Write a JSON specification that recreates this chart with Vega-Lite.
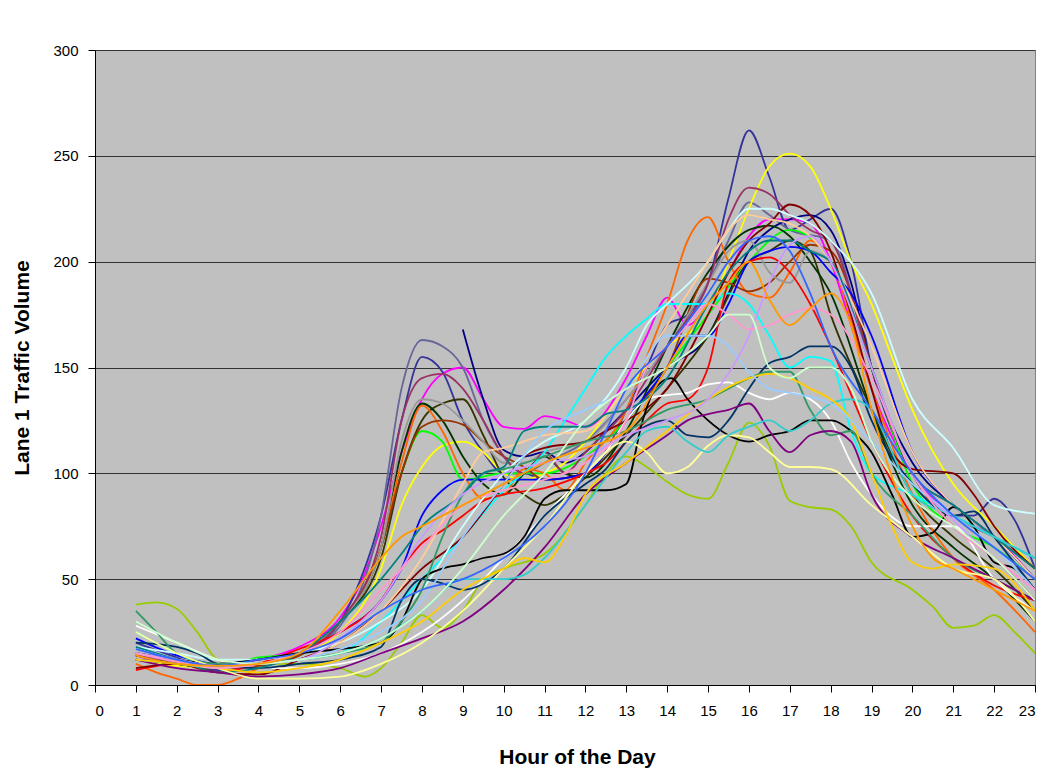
{
"$schema": "https://vega.github.io/schema/vega-lite/v6.json",
"width": 940, "height": 635,
"autosize": {"type": "none"},
"padding": {"left": 95, "top": 50, "right": 10, "bottom": 84},
"background": "white",
"config": {"font": "Liberation Sans", "view": {"fill": "#C0C0C0", "stroke": "#808080", "strokeWidth": 1}},
"data": {"values": [
{"s":"A","h":1,"v":38},{"s":"A","h":1.5,"v":39},{"s":"A","h":2,"v":36},{"s":"A","h":2.5,"v":25},{"s":"A","h":3,"v":12},{"s":"A","h":3.5,"v":10},{"s":"A","h":4,"v":10},{"s":"A","h":5,"v":10},{"s":"A","h":6,"v":8},{"s":"A","h":6.6,"v":4},{"s":"A","h":7,"v":8},{"s":"A","h":7.5,"v":20},{"s":"A","h":8,"v":33},{"s":"A","h":8.5,"v":27},{"s":"A","h":9,"v":35},{"s":"A","h":9.5,"v":50},{"s":"A","h":10,"v":55},{"s":"A","h":11,"v":62},{"s":"A","h":12,"v":85},{"s":"A","h":12.5,"v":100},{"s":"A","h":13,"v":108},{"s":"A","h":13.5,"v":103},{"s":"A","h":14,"v":96},{"s":"A","h":14.5,"v":90},{"s":"A","h":15,"v":88},{"s":"A","h":15.5,"v":105},{"s":"A","h":16,"v":124},{"s":"A","h":16.5,"v":113},{"s":"A","h":17,"v":87},{"s":"A","h":17.5,"v":84},{"s":"A","h":18,"v":83},{"s":"A","h":18.5,"v":75},{"s":"A","h":19,"v":58},{"s":"A","h":20,"v":45},{"s":"A","h":20.5,"v":37},{"s":"A","h":21,"v":27},{"s":"A","h":21.5,"v":28},{"s":"A","h":22,"v":33},{"s":"A","h":22.5,"v":25},{"s":"A","h":23,"v":15},
{"s":"B","h":1,"v":14},{"s":"B","h":2,"v":10},{"s":"B","h":3,"v":10},{"s":"B","h":4,"v":12},{"s":"B","h":5,"v":18},{"s":"B","h":6,"v":32},{"s":"B","h":6.5,"v":48},{"s":"B","h":7,"v":75},{"s":"B","h":7.5,"v":110},{"s":"B","h":8,"v":135},{"s":"B","h":8.5,"v":147},{"s":"B","h":9,"v":150},{"s":"B","h":9.5,"v":135},{"s":"B","h":10,"v":122},{"s":"B","h":10.5,"v":121},{"s":"B","h":11,"v":127},{"s":"B","h":11.5,"v":125},{"s":"B","h":12,"v":122},{"s":"B","h":13,"v":145},{"s":"B","h":13.5,"v":165},{"s":"B","h":14,"v":183},{"s":"B","h":14.5,"v":170},{"s":"B","h":15,"v":180},{"s":"B","h":15.5,"v":195},{"s":"B","h":16,"v":212},{"s":"B","h":16.5,"v":220},{"s":"B","h":17,"v":220},{"s":"B","h":17.5,"v":218},{"s":"B","h":18,"v":200},{"s":"B","h":18.5,"v":170},{"s":"B","h":19,"v":140},{"s":"B","h":20,"v":100},{"s":"B","h":21,"v":80},{"s":"B","h":22,"v":70},{"s":"B","h":23,"v":50},
{"s":"C","h":1,"v":20},{"s":"C","h":2,"v":13},{"s":"C","h":3,"v":7},{"s":"C","h":4,"v":10},{"s":"C","h":5,"v":15},{"s":"C","h":6,"v":30},{"s":"C","h":6.5,"v":50},{"s":"C","h":7,"v":80},{"s":"C","h":7.5,"v":125},{"s":"C","h":8,"v":155},{"s":"C","h":8.5,"v":148},{"s":"C","h":9,"v":125},{"s":"C","h":9.5,"v":110},{"s":"C","h":10,"v":100},{"s":"C","h":10.5,"v":100},{"s":"C","h":11,"v":97},{"s":"C","h":12,"v":100},{"s":"C","h":12.5,"v":110},{"s":"C","h":13,"v":130},{"s":"C","h":13.5,"v":150},{"s":"C","h":14,"v":170},{"s":"C","h":14.5,"v":175},{"s":"C","h":15,"v":190},{"s":"C","h":15.5,"v":230},{"s":"C","h":16,"v":262},{"s":"C","h":16.5,"v":240},{"s":"C","h":17,"v":215},{"s":"C","h":17.5,"v":220},{"s":"C","h":18,"v":225},{"s":"C","h":18.5,"v":200},{"s":"C","h":19,"v":150},{"s":"C","h":19.5,"v":120},{"s":"C","h":20,"v":100},{"s":"C","h":21,"v":80},{"s":"C","h":21.5,"v":80},{"s":"C","h":22,"v":88},{"s":"C","h":22.5,"v":78},{"s":"C","h":23,"v":55},
{"s":"D","h":1,"v":15},{"s":"D","h":2,"v":12},{"s":"D","h":3,"v":9},{"s":"D","h":4,"v":10},{"s":"D","h":5,"v":15},{"s":"D","h":6,"v":28},{"s":"D","h":7,"v":80},{"s":"D","h":7.5,"v":140},{"s":"D","h":8,"v":163},{"s":"D","h":8.5,"v":160},{"s":"D","h":9,"v":150},{"s":"D","h":9.5,"v":125},{"s":"D","h":10,"v":108},{"s":"D","h":10.5,"v":100},{"s":"D","h":11,"v":105},{"s":"D","h":12,"v":115},{"s":"D","h":13,"v":135},{"s":"D","h":14,"v":160},{"s":"D","h":15,"v":190},{"s":"D","h":15.5,"v":210},{"s":"D","h":16,"v":228},{"s":"D","h":16.5,"v":222},{"s":"D","h":17,"v":215},{"s":"D","h":18,"v":210},{"s":"D","h":19,"v":150},{"s":"D","h":20,"v":100},{"s":"D","h":21,"v":80},{"s":"D","h":22,"v":70},{"s":"D","h":23,"v":60},
{"s":"E","h":9,"v":168},{"s":"E","h":9.5,"v":135},{"s":"E","h":10,"v":111},{"s":"E","h":10.5,"v":108},{"s":"E","h":11,"v":110},{"s":"E","h":11.5,"v":105},{"s":"E","h":12,"v":110},{"s":"E","h":12.5,"v":120},{"s":"E","h":13,"v":130},{"s":"E","h":14,"v":150},{"s":"E","h":15,"v":165},{"s":"E","h":15.5,"v":185},{"s":"E","h":16,"v":205},{"s":"E","h":16.5,"v":215},{"s":"E","h":17,"v":220},{"s":"E","h":17.5,"v":222},{"s":"E","h":18,"v":215},{"s":"E","h":18.5,"v":190},{"s":"E","h":19,"v":150},{"s":"E","h":20,"v":105},{"s":"E","h":21,"v":85},{"s":"E","h":22,"v":70},{"s":"E","h":23,"v":50},
{"s":"F","h":1,"v":12},{"s":"F","h":2,"v":9},{"s":"F","h":3,"v":8},{"s":"F","h":4,"v":10},{"s":"F","h":5,"v":15},{"s":"F","h":6,"v":25},{"s":"F","h":7,"v":55},{"s":"F","h":7.5,"v":85},{"s":"F","h":8,"v":103},{"s":"F","h":8.5,"v":113},{"s":"F","h":9,"v":115},{"s":"F","h":9.5,"v":110},{"s":"F","h":10,"v":100},{"s":"F","h":10.5,"v":97},{"s":"F","h":11,"v":100},{"s":"F","h":11.5,"v":105},{"s":"F","h":12,"v":115},{"s":"F","h":13,"v":140},{"s":"F","h":14,"v":160},{"s":"F","h":15,"v":175},{"s":"F","h":15.5,"v":200},{"s":"F","h":16,"v":225},{"s":"F","h":16.5,"v":245},{"s":"F","h":17,"v":251},{"s":"F","h":17.5,"v":245},{"s":"F","h":18,"v":225},{"s":"F","h":18.5,"v":200},{"s":"F","h":19,"v":180},{"s":"F","h":19.5,"v":155},{"s":"F","h":20,"v":130},{"s":"F","h":21,"v":95},{"s":"F","h":22,"v":75},{"s":"F","h":23,"v":55},
{"s":"G","h":1,"v":15},{"s":"G","h":2,"v":12},{"s":"G","h":3,"v":9},{"s":"G","h":4,"v":13},{"s":"G","h":5,"v":15},{"s":"G","h":6,"v":30},{"s":"G","h":7,"v":65},{"s":"G","h":7.5,"v":100},{"s":"G","h":8,"v":120},{"s":"G","h":8.5,"v":115},{"s":"G","h":9,"v":97},{"s":"G","h":10,"v":100},{"s":"G","h":11,"v":100},{"s":"G","h":12,"v":108},{"s":"G","h":13,"v":125},{"s":"G","h":14,"v":150},{"s":"G","h":15,"v":175},{"s":"G","h":16,"v":200},{"s":"G","h":17,"v":215},{"s":"G","h":18,"v":200},{"s":"G","h":19,"v":150},{"s":"G","h":20,"v":95},{"s":"G","h":21,"v":75},{"s":"G","h":22,"v":65},{"s":"G","h":23,"v":50},
{"s":"H","h":1,"v":12},{"s":"H","h":2,"v":10},{"s":"H","h":3,"v":8},{"s":"H","h":4,"v":10},{"s":"H","h":5,"v":14},{"s":"H","h":6,"v":30},{"s":"H","h":7,"v":60},{"s":"H","h":7.5,"v":100},{"s":"H","h":8,"v":125},{"s":"H","h":8.5,"v":133},{"s":"H","h":9,"v":135},{"s":"H","h":9.5,"v":118},{"s":"H","h":10,"v":98},{"s":"H","h":10.5,"v":90},{"s":"H","h":11,"v":85},{"s":"H","h":11.5,"v":90},{"s":"H","h":12,"v":98},{"s":"H","h":13,"v":118},{"s":"H","h":14,"v":140},{"s":"H","h":15,"v":165},{"s":"H","h":16,"v":200},{"s":"H","h":16.5,"v":205},{"s":"H","h":17,"v":210},{"s":"H","h":17.5,"v":205},{"s":"H","h":18,"v":175},{"s":"H","h":19,"v":130},{"s":"H","h":20,"v":90},{"s":"H","h":21,"v":70},{"s":"H","h":22,"v":55},{"s":"H","h":23,"v":35},
{"s":"I","h":1,"v":14},{"s":"I","h":2,"v":10},{"s":"I","h":3,"v":8},{"s":"I","h":4,"v":10},{"s":"I","h":5,"v":15},{"s":"I","h":6,"v":30},{"s":"I","h":7,"v":65},{"s":"I","h":7.5,"v":110},{"s":"I","h":8,"v":133},{"s":"I","h":8.5,"v":125},{"s":"I","h":9,"v":108},{"s":"I","h":9.5,"v":95},{"s":"I","h":10,"v":90},{"s":"I","h":10.5,"v":100},{"s":"I","h":11,"v":108},{"s":"I","h":11.5,"v":100},{"s":"I","h":12,"v":98},{"s":"I","h":13,"v":120},{"s":"I","h":14,"v":160},{"s":"I","h":15,"v":195},{"s":"I","h":16,"v":215},{"s":"I","h":16.5,"v":217},{"s":"I","h":17,"v":212},{"s":"I","h":17.5,"v":200},{"s":"I","h":18,"v":185},{"s":"I","h":19,"v":130},{"s":"I","h":20,"v":85},{"s":"I","h":21,"v":65},{"s":"I","h":22,"v":50},{"s":"I","h":23,"v":30},
{"s":"J","h":1,"v":10},{"s":"J","h":1.5,"v":6},{"s":"J","h":2,"v":3},{"s":"J","h":2.5,"v":0},{"s":"J","h":3,"v":0},{"s":"J","h":3.5,"v":3},{"s":"J","h":4,"v":8},{"s":"J","h":5,"v":15},{"s":"J","h":6,"v":30},{"s":"J","h":7,"v":65},{"s":"J","h":7.5,"v":105},{"s":"J","h":8,"v":132},{"s":"J","h":8.5,"v":120},{"s":"J","h":9,"v":100},{"s":"J","h":9.5,"v":88},{"s":"J","h":10,"v":90},{"s":"J","h":10.5,"v":102},{"s":"J","h":11,"v":100},{"s":"J","h":11.5,"v":92},{"s":"J","h":12,"v":105},{"s":"J","h":13,"v":130},{"s":"J","h":13.5,"v":155},{"s":"J","h":14,"v":180},{"s":"J","h":14.5,"v":210},{"s":"J","h":15,"v":221},{"s":"J","h":15.5,"v":200},{"s":"J","h":16,"v":185},{"s":"J","h":16.5,"v":183},{"s":"J","h":17,"v":195},{"s":"J","h":17.5,"v":210},{"s":"J","h":18,"v":200},{"s":"J","h":19,"v":140},{"s":"J","h":20,"v":90},{"s":"J","h":21,"v":60},{"s":"J","h":22,"v":45},{"s":"J","h":23,"v":25},
{"s":"K","h":1,"v":12},{"s":"K","h":2,"v":10},{"s":"K","h":3,"v":8},{"s":"K","h":4,"v":9},{"s":"K","h":5,"v":14},{"s":"K","h":6,"v":30},{"s":"K","h":7,"v":65},{"s":"K","h":7.5,"v":100},{"s":"K","h":8,"v":122},{"s":"K","h":8.5,"v":125},{"s":"K","h":9,"v":123},{"s":"K","h":9.5,"v":115},{"s":"K","h":10,"v":108},{"s":"K","h":10.5,"v":103},{"s":"K","h":11,"v":97},{"s":"K","h":12,"v":100},{"s":"K","h":13,"v":125},{"s":"K","h":14,"v":150},{"s":"K","h":15,"v":192},{"s":"K","h":15.5,"v":190},{"s":"K","h":16,"v":186},{"s":"K","h":16.5,"v":190},{"s":"K","h":17,"v":200},{"s":"K","h":17.5,"v":208},{"s":"K","h":18,"v":205},{"s":"K","h":18.5,"v":185},{"s":"K","h":19,"v":150},{"s":"K","h":20,"v":100},{"s":"K","h":21,"v":75},{"s":"K","h":22,"v":60},{"s":"K","h":23,"v":40},
{"s":"L","h":1,"v":15},{"s":"L","h":2,"v":12},{"s":"L","h":3,"v":9},{"s":"L","h":4,"v":10},{"s":"L","h":5,"v":15},{"s":"L","h":6,"v":30},{"s":"L","h":7,"v":65},{"s":"L","h":7.5,"v":115},{"s":"L","h":8,"v":135},{"s":"L","h":8.5,"v":133},{"s":"L","h":9,"v":125},{"s":"L","h":9.5,"v":115},{"s":"L","h":10,"v":105},{"s":"L","h":10.5,"v":105},{"s":"L","h":11,"v":110},{"s":"L","h":12,"v":115},{"s":"L","h":13,"v":135},{"s":"L","h":14,"v":160},{"s":"L","h":15,"v":190},{"s":"L","h":15.5,"v":205},{"s":"L","h":16,"v":210},{"s":"L","h":16.5,"v":195},{"s":"L","h":17,"v":190},{"s":"L","h":17.5,"v":205},{"s":"L","h":18,"v":200},{"s":"L","h":19,"v":150},{"s":"L","h":20,"v":100},{"s":"L","h":21,"v":80},{"s":"L","h":22,"v":70},{"s":"L","h":23,"v":55},
{"s":"M","h":1,"v":14},{"s":"M","h":2,"v":11},{"s":"M","h":3,"v":8},{"s":"M","h":4,"v":10},{"s":"M","h":5,"v":15},{"s":"M","h":6,"v":30},{"s":"M","h":7,"v":70},{"s":"M","h":7.5,"v":125},{"s":"M","h":8,"v":145},{"s":"M","h":8.5,"v":147},{"s":"M","h":9,"v":140},{"s":"M","h":9.5,"v":125},{"s":"M","h":10,"v":108},{"s":"M","h":10.5,"v":100},{"s":"M","h":11,"v":110},{"s":"M","h":11.5,"v":100},{"s":"M","h":12,"v":110},{"s":"M","h":13,"v":130},{"s":"M","h":14,"v":160},{"s":"M","h":15,"v":190},{"s":"M","h":15.5,"v":220},{"s":"M","h":16,"v":235},{"s":"M","h":16.5,"v":232},{"s":"M","h":17,"v":222},{"s":"M","h":17.5,"v":215},{"s":"M","h":18,"v":210},{"s":"M","h":19,"v":150},{"s":"M","h":20,"v":100},{"s":"M","h":21,"v":85},{"s":"M","h":22,"v":70},{"s":"M","h":23,"v":55},
{"s":"N","h":1,"v":22},{"s":"N","h":2,"v":14},{"s":"N","h":3,"v":10},{"s":"N","h":4,"v":12},{"s":"N","h":5,"v":15},{"s":"N","h":6,"v":25},{"s":"N","h":7,"v":40},{"s":"N","h":7.5,"v":55},{"s":"N","h":8,"v":80},{"s":"N","h":8.5,"v":92},{"s":"N","h":9,"v":97},{"s":"N","h":10,"v":97},{"s":"N","h":11,"v":97},{"s":"N","h":12,"v":100},{"s":"N","h":12.5,"v":110},{"s":"N","h":13,"v":125},{"s":"N","h":14,"v":150},{"s":"N","h":14.5,"v":165},{"s":"N","h":15,"v":165},{"s":"N","h":15.5,"v":180},{"s":"N","h":16,"v":200},{"s":"N","h":16.5,"v":205},{"s":"N","h":17,"v":207},{"s":"N","h":17.5,"v":205},{"s":"N","h":18,"v":195},{"s":"N","h":18.5,"v":185},{"s":"N","h":19,"v":165},{"s":"N","h":20,"v":110},{"s":"N","h":21,"v":85},{"s":"N","h":22,"v":70},{"s":"N","h":23,"v":50},
{"s":"O","h":1,"v":25},{"s":"O","h":2,"v":15},{"s":"O","h":3,"v":8},{"s":"O","h":4,"v":10},{"s":"O","h":5,"v":12},{"s":"O","h":6,"v":15},{"s":"O","h":7,"v":30},{"s":"O","h":8,"v":50},{"s":"O","h":9,"v":70},{"s":"O","h":10,"v":92},{"s":"O","h":11,"v":110},{"s":"O","h":11.5,"v":125},{"s":"O","h":12,"v":140},{"s":"O","h":12.5,"v":155},{"s":"O","h":13,"v":165},{"s":"O","h":13.5,"v":173},{"s":"O","h":14,"v":180},{"s":"O","h":14.5,"v":180},{"s":"O","h":15,"v":180},{"s":"O","h":15.5,"v":185},{"s":"O","h":16,"v":180},{"s":"O","h":16.5,"v":165},{"s":"O","h":17,"v":150},{"s":"O","h":17.5,"v":155},{"s":"O","h":18,"v":153},{"s":"O","h":18.5,"v":120},{"s":"O","h":19,"v":100},{"s":"O","h":20,"v":90},{"s":"O","h":21,"v":80},{"s":"O","h":22,"v":70},{"s":"O","h":23,"v":60},
{"s":"P","h":1,"v":7},{"s":"P","h":2,"v":10},{"s":"P","h":3,"v":6},{"s":"P","h":4,"v":10},{"s":"P","h":5,"v":17},{"s":"P","h":6,"v":25},{"s":"P","h":7,"v":40},{"s":"P","h":7.5,"v":55},{"s":"P","h":8,"v":67},{"s":"P","h":8.5,"v":73},{"s":"P","h":9,"v":80},{"s":"P","h":9.5,"v":87},{"s":"P","h":10,"v":90},{"s":"P","h":11,"v":93},{"s":"P","h":12,"v":100},{"s":"P","h":12.5,"v":105},{"s":"P","h":13,"v":115},{"s":"P","h":13.5,"v":125},{"s":"P","h":14,"v":133},{"s":"P","h":14.5,"v":135},{"s":"P","h":15,"v":150},{"s":"P","h":15.5,"v":190},{"s":"P","h":16,"v":200},{"s":"P","h":16.5,"v":202},{"s":"P","h":17,"v":195},{"s":"P","h":17.5,"v":180},{"s":"P","h":18,"v":160},{"s":"P","h":19,"v":115},{"s":"P","h":20,"v":80},{"s":"P","h":21,"v":60},{"s":"P","h":22,"v":47},{"s":"P","h":23,"v":40},
{"s":"Q","h":1,"v":8},{"s":"Q","h":2,"v":10},{"s":"Q","h":3,"v":6},{"s":"Q","h":4,"v":5},{"s":"Q","h":5,"v":12},{"s":"Q","h":6,"v":20},{"s":"Q","h":7,"v":35},{"s":"Q","h":8,"v":55},{"s":"Q","h":9,"v":70},{"s":"Q","h":10,"v":95},{"s":"Q","h":10.5,"v":108},{"s":"Q","h":11,"v":112},{"s":"Q","h":12,"v":115},{"s":"Q","h":12.5,"v":120},{"s":"Q","h":13,"v":125},{"s":"Q","h":14,"v":140},{"s":"Q","h":15,"v":175},{"s":"Q","h":15.5,"v":195},{"s":"Q","h":16,"v":210},{"s":"Q","h":16.5,"v":218},{"s":"Q","h":17,"v":227},{"s":"Q","h":17.5,"v":222},{"s":"Q","h":18,"v":205},{"s":"Q","h":18.5,"v":175},{"s":"Q","h":19,"v":140},{"s":"Q","h":19.5,"v":110},{"s":"Q","h":20,"v":102},{"s":"Q","h":21,"v":100},{"s":"Q","h":21.5,"v":90},{"s":"Q","h":22,"v":75},{"s":"Q","h":23,"v":55},
{"s":"R","h":1,"v":18},{"s":"R","h":2,"v":15},{"s":"R","h":3,"v":12},{"s":"R","h":4,"v":12},{"s":"R","h":5,"v":15},{"s":"R","h":6,"v":20},{"s":"R","h":7,"v":30},{"s":"R","h":8,"v":45},{"s":"R","h":9,"v":75},{"s":"R","h":10,"v":100},{"s":"R","h":11,"v":115},{"s":"R","h":12,"v":125},{"s":"R","h":13,"v":150},{"s":"R","h":13.5,"v":170},{"s":"R","h":14,"v":180},{"s":"R","h":15,"v":200},{"s":"R","h":15.5,"v":215},{"s":"R","h":16,"v":225},{"s":"R","h":16.5,"v":225},{"s":"R","h":17,"v":222},{"s":"R","h":17.5,"v":218},{"s":"R","h":18,"v":210},{"s":"R","h":19,"v":185},{"s":"R","h":20,"v":135},{"s":"R","h":21,"v":112},{"s":"R","h":22,"v":85},{"s":"R","h":23,"v":81},
{"s":"S","h":1,"v":15},{"s":"S","h":2,"v":12},{"s":"S","h":3,"v":10},{"s":"S","h":4,"v":10},{"s":"S","h":5,"v":12},{"s":"S","h":6,"v":20},{"s":"S","h":7,"v":35},{"s":"S","h":8,"v":60},{"s":"S","h":9,"v":95},{"s":"S","h":9.5,"v":110},{"s":"S","h":10,"v":112},{"s":"S","h":11,"v":118},{"s":"S","h":12,"v":120},{"s":"S","h":13,"v":140},{"s":"S","h":14,"v":170},{"s":"S","h":15,"v":200},{"s":"S","h":15.5,"v":215},{"s":"S","h":16,"v":222},{"s":"S","h":16.5,"v":220},{"s":"S","h":17,"v":218},{"s":"S","h":17.5,"v":212},{"s":"S","h":18,"v":200},{"s":"S","h":19,"v":160},{"s":"S","h":20,"v":110},{"s":"S","h":21,"v":85},{"s":"S","h":22,"v":70},{"s":"S","h":23,"v":50},
{"s":"T","h":1,"v":28},{"s":"T","h":2,"v":20},{"s":"T","h":3,"v":12},{"s":"T","h":4,"v":8},{"s":"T","h":5,"v":8},{"s":"T","h":6,"v":10},{"s":"T","h":7,"v":15},{"s":"T","h":8,"v":25},{"s":"T","h":9,"v":40},{"s":"T","h":10,"v":60},{"s":"T","h":11,"v":80},{"s":"T","h":12,"v":100},{"s":"T","h":12.5,"v":110},{"s":"T","h":13,"v":125},{"s":"T","h":13.5,"v":135},{"s":"T","h":14,"v":137},{"s":"T","h":14.5,"v":138},{"s":"T","h":15,"v":142},{"s":"T","h":15.5,"v":143},{"s":"T","h":16,"v":138},{"s":"T","h":16.5,"v":135},{"s":"T","h":17,"v":138},{"s":"T","h":17.5,"v":135},{"s":"T","h":18,"v":125},{"s":"T","h":18.5,"v":105},{"s":"T","h":19,"v":90},{"s":"T","h":20,"v":75},{"s":"T","h":21,"v":75},{"s":"T","h":22,"v":50},{"s":"T","h":23,"v":35},
{"s":"U","h":1,"v":15},{"s":"U","h":2,"v":12},{"s":"U","h":3,"v":10},{"s":"U","h":4,"v":12},{"s":"U","h":5,"v":15},{"s":"U","h":6,"v":17},{"s":"U","h":7,"v":20},{"s":"U","h":7.5,"v":30},{"s":"U","h":8,"v":50},{"s":"U","h":8.5,"v":55},{"s":"U","h":9,"v":57},{"s":"U","h":9.5,"v":60},{"s":"U","h":10,"v":62},{"s":"U","h":10.5,"v":70},{"s":"U","h":11,"v":88},{"s":"U","h":11.5,"v":92},{"s":"U","h":12,"v":92},{"s":"U","h":12.5,"v":92},{"s":"U","h":13,"v":95},{"s":"U","h":13.4,"v":125},{"s":"U","h":13.7,"v":140},{"s":"U","h":14.1,"v":145},{"s":"U","h":14.5,"v":135},{"s":"U","h":15,"v":125},{"s":"U","h":15.5,"v":118},{"s":"U","h":16,"v":115},{"s":"U","h":16.5,"v":118},{"s":"U","h":17,"v":120},{"s":"U","h":17.5,"v":125},{"s":"U","h":18,"v":125},{"s":"U","h":18.5,"v":120},{"s":"U","h":19,"v":110},{"s":"U","h":19.5,"v":90},{"s":"U","h":20,"v":70},{"s":"U","h":20.5,"v":72},{"s":"U","h":21,"v":84},{"s":"U","h":21.5,"v":75},{"s":"U","h":22,"v":58},{"s":"U","h":22.5,"v":55},{"s":"U","h":23,"v":45},
{"s":"V","h":1,"v":20},{"s":"V","h":2,"v":18},{"s":"V","h":2.5,"v":15},{"s":"V","h":3,"v":10},{"s":"V","h":4,"v":8},{"s":"V","h":5,"v":10},{"s":"V","h":6,"v":12},{"s":"V","h":7,"v":18},{"s":"V","h":7.5,"v":40},{"s":"V","h":8,"v":50},{"s":"V","h":8.5,"v":48},{"s":"V","h":9,"v":45},{"s":"V","h":10,"v":55},{"s":"V","h":11,"v":80},{"s":"V","h":12,"v":95},{"s":"V","h":12.5,"v":102},{"s":"V","h":13,"v":115},{"s":"V","h":14,"v":125},{"s":"V","h":14.5,"v":118},{"s":"V","h":15,"v":117},{"s":"V","h":15.5,"v":125},{"s":"V","h":16,"v":140},{"s":"V","h":16.5,"v":152},{"s":"V","h":17,"v":155},{"s":"V","h":17.5,"v":160},{"s":"V","h":18,"v":160},{"s":"V","h":18.5,"v":150},{"s":"V","h":19,"v":125},{"s":"V","h":20,"v":95},{"s":"V","h":20.5,"v":85},{"s":"V","h":21,"v":80},{"s":"V","h":21.5,"v":82},{"s":"V","h":22,"v":70},{"s":"V","h":23,"v":45},
{"s":"W","h":1,"v":35},{"s":"W","h":1.5,"v":25},{"s":"W","h":2,"v":15},{"s":"W","h":3,"v":10},{"s":"W","h":4,"v":10},{"s":"W","h":5,"v":12},{"s":"W","h":6,"v":15},{"s":"W","h":7,"v":20},{"s":"W","h":7.5,"v":30},{"s":"W","h":8,"v":45},{"s":"W","h":8.5,"v":70},{"s":"W","h":9,"v":90},{"s":"W","h":9.5,"v":100},{"s":"W","h":10,"v":102},{"s":"W","h":11,"v":108},{"s":"W","h":12,"v":115},{"s":"W","h":13,"v":120},{"s":"W","h":14,"v":130},{"s":"W","h":15,"v":135},{"s":"W","h":15.5,"v":140},{"s":"W","h":16,"v":145},{"s":"W","h":16.5,"v":148},{"s":"W","h":17,"v":148},{"s":"W","h":17.5,"v":130},{"s":"W","h":18,"v":118},{"s":"W","h":18.5,"v":120},{"s":"W","h":19,"v":100},{"s":"W","h":20,"v":80},{"s":"W","h":21,"v":60},{"s":"W","h":22,"v":50},{"s":"W","h":23,"v":40},
{"s":"X","h":1,"v":18},{"s":"X","h":2,"v":12},{"s":"X","h":3,"v":6},{"s":"X","h":4,"v":8},{"s":"X","h":5,"v":15},{"s":"X","h":6,"v":30},{"s":"X","h":7,"v":50},{"s":"X","h":7.5,"v":62},{"s":"X","h":8,"v":75},{"s":"X","h":9,"v":90},{"s":"X","h":9.5,"v":100},{"s":"X","h":10,"v":103},{"s":"X","h":10.5,"v":120},{"s":"X","h":11,"v":122},{"s":"X","h":12,"v":122},{"s":"X","h":12.5,"v":128},{"s":"X","h":13,"v":130},{"s":"X","h":14,"v":145},{"s":"X","h":15,"v":180},{"s":"X","h":15.5,"v":195},{"s":"X","h":16,"v":205},{"s":"X","h":16.5,"v":210},{"s":"X","h":17,"v":210},{"s":"X","h":17.5,"v":205},{"s":"X","h":18,"v":200},{"s":"X","h":19,"v":150},{"s":"X","h":20,"v":100},{"s":"X","h":21,"v":85},{"s":"X","h":22,"v":70},{"s":"X","h":23,"v":55},
{"s":"Y","h":1,"v":12},{"s":"Y","h":2,"v":8},{"s":"Y","h":3,"v":6},{"s":"Y","h":4,"v":4},{"s":"Y","h":5,"v":5},{"s":"Y","h":6,"v":8},{"s":"Y","h":7,"v":15},{"s":"Y","h":8,"v":22},{"s":"Y","h":9,"v":30},{"s":"Y","h":10,"v":45},{"s":"Y","h":11,"v":65},{"s":"Y","h":12,"v":90},{"s":"Y","h":13,"v":105},{"s":"Y","h":14,"v":118},{"s":"Y","h":14.5,"v":125},{"s":"Y","h":15,"v":128},{"s":"Y","h":15.5,"v":130},{"s":"Y","h":16,"v":133},{"s":"Y","h":16.5,"v":120},{"s":"Y","h":17,"v":110},{"s":"Y","h":17.5,"v":118},{"s":"Y","h":18,"v":120},{"s":"Y","h":18.5,"v":115},{"s":"Y","h":19,"v":90},{"s":"Y","h":20,"v":70},{"s":"Y","h":21,"v":60},{"s":"Y","h":22,"v":50},{"s":"Y","h":23,"v":40},
{"s":"Z","h":1,"v":25},{"s":"Z","h":2,"v":15},{"s":"Z","h":3,"v":8},{"s":"Z","h":4,"v":3},{"s":"Z","h":5,"v":3},{"s":"Z","h":6,"v":4},{"s":"Z","h":7,"v":10},{"s":"Z","h":8,"v":20},{"s":"Z","h":9,"v":35},{"s":"Z","h":10,"v":55},{"s":"Z","h":11,"v":75},{"s":"Z","h":12,"v":100},{"s":"Z","h":13,"v":115},{"s":"Z","h":13.5,"v":110},{"s":"Z","h":14,"v":100},{"s":"Z","h":14.5,"v":103},{"s":"Z","h":15,"v":113},{"s":"Z","h":15.5,"v":118},{"s":"Z","h":16,"v":117},{"s":"Z","h":16.5,"v":110},{"s":"Z","h":17,"v":103},{"s":"Z","h":17.5,"v":103},{"s":"Z","h":18,"v":102},{"s":"Z","h":19,"v":85},{"s":"Z","h":20,"v":70},{"s":"Z","h":21,"v":55},{"s":"Z","h":22,"v":50},{"s":"Z","h":23,"v":30},
{"s":"AA","h":1,"v":12},{"s":"AA","h":2,"v":10},{"s":"AA","h":3,"v":8},{"s":"AA","h":4,"v":10},{"s":"AA","h":5,"v":12},{"s":"AA","h":6,"v":15},{"s":"AA","h":7,"v":22},{"s":"AA","h":8,"v":35},{"s":"AA","h":9,"v":50},{"s":"AA","h":10,"v":50},{"s":"AA","h":10.5,"v":52},{"s":"AA","h":11,"v":60},{"s":"AA","h":12,"v":85},{"s":"AA","h":13,"v":110},{"s":"AA","h":13.5,"v":120},{"s":"AA","h":14,"v":122},{"s":"AA","h":14.5,"v":115},{"s":"AA","h":15,"v":110},{"s":"AA","h":15.5,"v":118},{"s":"AA","h":16,"v":122},{"s":"AA","h":16.5,"v":125},{"s":"AA","h":17,"v":120},{"s":"AA","h":17.5,"v":125},{"s":"AA","h":18,"v":133},{"s":"AA","h":18.5,"v":135},{"s":"AA","h":19,"v":130},{"s":"AA","h":19.5,"v":110},{"s":"AA","h":20,"v":90},{"s":"AA","h":21,"v":80},{"s":"AA","h":22,"v":70},{"s":"AA","h":23,"v":60},
{"s":"AB","h":1,"v":12},{"s":"AB","h":2,"v":10},{"s":"AB","h":3,"v":8},{"s":"AB","h":4,"v":6},{"s":"AB","h":5,"v":8},{"s":"AB","h":6,"v":12},{"s":"AB","h":7,"v":20},{"s":"AB","h":8,"v":30},{"s":"AB","h":9,"v":45},{"s":"AB","h":10,"v":55},{"s":"AB","h":10.5,"v":60},{"s":"AB","h":11,"v":58},{"s":"AB","h":11.5,"v":70},{"s":"AB","h":12,"v":90},{"s":"AB","h":13,"v":105},{"s":"AB","h":14,"v":120},{"s":"AB","h":15,"v":135},{"s":"AB","h":16,"v":145},{"s":"AB","h":16.5,"v":147},{"s":"AB","h":17,"v":145},{"s":"AB","h":17.5,"v":140},{"s":"AB","h":18,"v":135},{"s":"AB","h":18.5,"v":125},{"s":"AB","h":19,"v":100},{"s":"AB","h":19.5,"v":75},{"s":"AB","h":20,"v":58},{"s":"AB","h":20.5,"v":55},{"s":"AB","h":21,"v":57},{"s":"AB","h":22,"v":55},{"s":"AB","h":23,"v":35},
{"s":"AC","h":1,"v":17},{"s":"AC","h":2,"v":12},{"s":"AC","h":3,"v":9},{"s":"AC","h":4,"v":10},{"s":"AC","h":5,"v":12},{"s":"AC","h":6,"v":17},{"s":"AC","h":7,"v":25},{"s":"AC","h":8,"v":40},{"s":"AC","h":9,"v":70},{"s":"AC","h":10,"v":95},{"s":"AC","h":11,"v":120},{"s":"AC","h":12,"v":130},{"s":"AC","h":13,"v":140},{"s":"AC","h":14,"v":165},{"s":"AC","h":15,"v":165},{"s":"AC","h":15.5,"v":160},{"s":"AC","h":16,"v":148},{"s":"AC","h":16.5,"v":140},{"s":"AC","h":17,"v":138},{"s":"AC","h":18,"v":133},{"s":"AC","h":19,"v":115},{"s":"AC","h":20,"v":95},{"s":"AC","h":21,"v":80},{"s":"AC","h":22,"v":65},{"s":"AC","h":23,"v":45},
{"s":"AD","h":1,"v":15},{"s":"AD","h":2,"v":12},{"s":"AD","h":3,"v":9},{"s":"AD","h":4,"v":10},{"s":"AD","h":5,"v":12},{"s":"AD","h":6,"v":22},{"s":"AD","h":7,"v":40},{"s":"AD","h":8,"v":70},{"s":"AD","h":9,"v":90},{"s":"AD","h":10,"v":100},{"s":"AD","h":11,"v":105},{"s":"AD","h":12,"v":108},{"s":"AD","h":13,"v":118},{"s":"AD","h":14,"v":125},{"s":"AD","h":15,"v":135},{"s":"AD","h":16,"v":165},{"s":"AD","h":16.5,"v":190},{"s":"AD","h":17,"v":208},{"s":"AD","h":17.5,"v":212},{"s":"AD","h":18,"v":200},{"s":"AD","h":19,"v":150},{"s":"AD","h":20,"v":100},{"s":"AD","h":21,"v":78},{"s":"AD","h":22,"v":60},{"s":"AD","h":23,"v":45},
{"s":"AE","h":1,"v":15},{"s":"AE","h":2,"v":11},{"s":"AE","h":3,"v":8},{"s":"AE","h":4,"v":10},{"s":"AE","h":5,"v":15},{"s":"AE","h":6,"v":25},{"s":"AE","h":7,"v":45},{"s":"AE","h":8,"v":65},{"s":"AE","h":9,"v":85},{"s":"AE","h":10,"v":92},{"s":"AE","h":11,"v":97},{"s":"AE","h":12,"v":105},{"s":"AE","h":13,"v":125},{"s":"AE","h":13.5,"v":150},{"s":"AE","h":14,"v":160},{"s":"AE","h":14.5,"v":170},{"s":"AE","h":15,"v":180},{"s":"AE","h":15.5,"v":175},{"s":"AE","h":16,"v":168},{"s":"AE","h":16.5,"v":170},{"s":"AE","h":17,"v":175},{"s":"AE","h":17.5,"v":178},{"s":"AE","h":18,"v":175},{"s":"AE","h":19,"v":145},{"s":"AE","h":20,"v":100},{"s":"AE","h":21,"v":75},{"s":"AE","h":22,"v":60},{"s":"AE","h":23,"v":45},
{"s":"AF","h":1,"v":17},{"s":"AF","h":2,"v":12},{"s":"AF","h":3,"v":9},{"s":"AF","h":4,"v":12},{"s":"AF","h":5,"v":15},{"s":"AF","h":6,"v":22},{"s":"AF","h":7,"v":35},{"s":"AF","h":8,"v":45},{"s":"AF","h":9,"v":50},{"s":"AF","h":10,"v":60},{"s":"AF","h":11,"v":75},{"s":"AF","h":12,"v":100},{"s":"AF","h":12.5,"v":120},{"s":"AF","h":13,"v":140},{"s":"AF","h":14,"v":160},{"s":"AF","h":15,"v":185},{"s":"AF","h":15.5,"v":200},{"s":"AF","h":16,"v":210},{"s":"AF","h":16.5,"v":212},{"s":"AF","h":17,"v":205},{"s":"AF","h":17.5,"v":185},{"s":"AF","h":18,"v":160},{"s":"AF","h":19,"v":130},{"s":"AF","h":20,"v":100},{"s":"AF","h":21,"v":80},{"s":"AF","h":22,"v":65},{"s":"AF","h":23,"v":50},
{"s":"AG","h":1,"v":30},{"s":"AG","h":2,"v":20},{"s":"AG","h":3,"v":12},{"s":"AG","h":4,"v":10},{"s":"AG","h":5,"v":12},{"s":"AG","h":6,"v":15},{"s":"AG","h":7,"v":22},{"s":"AG","h":8,"v":35},{"s":"AG","h":9,"v":55},{"s":"AG","h":10,"v":80},{"s":"AG","h":11,"v":100},{"s":"AG","h":12,"v":125},{"s":"AG","h":13,"v":140},{"s":"AG","h":14,"v":150},{"s":"AG","h":15,"v":165},{"s":"AG","h":15.5,"v":175},{"s":"AG","h":16,"v":175},{"s":"AG","h":16.5,"v":150},{"s":"AG","h":17,"v":145},{"s":"AG","h":17.5,"v":150},{"s":"AG","h":18,"v":150},{"s":"AG","h":18.5,"v":140},{"s":"AG","h":19,"v":115},{"s":"AG","h":20,"v":88},{"s":"AG","h":21,"v":75},{"s":"AG","h":22,"v":60},{"s":"AG","h":23,"v":40},
{"s":"AH","h":1,"v":14},{"s":"AH","h":2,"v":10},{"s":"AH","h":3,"v":9},{"s":"AH","h":4,"v":10},{"s":"AH","h":5,"v":15},{"s":"AH","h":6,"v":35},{"s":"AH","h":7,"v":60},{"s":"AH","h":7.5,"v":70},{"s":"AH","h":8,"v":75},{"s":"AH","h":9,"v":85},{"s":"AH","h":10,"v":95},{"s":"AH","h":11,"v":105},{"s":"AH","h":12,"v":112},{"s":"AH","h":13,"v":120},{"s":"AH","h":14,"v":150},{"s":"AH","h":15,"v":180},{"s":"AH","h":15.5,"v":190},{"s":"AH","h":16,"v":200},{"s":"AH","h":16.5,"v":182},{"s":"AH","h":17,"v":170},{"s":"AH","h":17.5,"v":178},{"s":"AH","h":18,"v":185},{"s":"AH","h":18.5,"v":170},{"s":"AH","h":19,"v":130},{"s":"AH","h":20,"v":75},{"s":"AH","h":20.5,"v":60},{"s":"AH","h":21,"v":55},{"s":"AH","h":22,"v":45},{"s":"AH","h":23,"v":35}
]},
"mark": {"type": "line", "interpolate": "monotone", "strokeWidth": 1.8, "clip": true},
"encoding": {
  "x": {"field": "h", "type": "quantitative",
    "scale": {"domain": [0, 23], "nice": false, "zero": false},
    "axis": {"title": "Hour of the Day", "values": [0,1,2,3,4,5,6,7,8,9,10,11,12,13,14,15,16,17,18,19,20,21,22,23],
      "grid": false, "domainColor": "#000", "tickColor": "#000", "tickSize": 7, "labelPadding": 11,
      "labelFontSize": 15, "labelColor": "#000", "labelFont": "Liberation Sans",
      "titleFontSize": 21, "titleFontWeight": "bold", "titleColor": "#000", "titleFont": "Liberation Sans", "titlePadding": 28, "titleX": 482}},
  "y": {"field": "v", "type": "quantitative",
    "scale": {"domain": [0, 300], "nice": false},
    "axis": {"title": "Lane 1 Traffic Volume", "values": [0,50,100,150,200,250,300],
      "grid": true, "gridColor": "#333333", "gridWidth": 1, "gridOpacity": 1,
      "domainColor": "#000", "tickColor": "#000", "tickSize": 7, "labelPadding": 10,
      "labelFontSize": 15, "labelColor": "#000", "labelFont": "Liberation Sans",
      "titleFontSize": 21, "titleFontWeight": "bold", "titleColor": "#000", "titleFont": "Liberation Sans", "titlePadding": 20}},
  "color": {"field": "s", "type": "nominal", "legend": null,
    "scale": {"domain": ["A","B","C","D","E","F","G","H","I","J","K","L","M","N","O","P","Q","R","S","T","U","V","W","X","Y","Z","AA","AB","AC","AD","AE","AF","AG","AH"],
      "range": ["#99CC00","#FF00FF","#333399","#666699","#000080","#FFFF00","#00FF00","#333300","#003300","#FF6600","#993300","#999999","#993366","#0000FF","#00FFFF","#FF0000","#800000","#CCFFFF","#FFCC99","#FFFFFF","#000000","#003366","#339966","#008080","#800080","#FFFF99","#33CCCC","#FFCC00","#99CCFF","#CC99FF","#FF99CC","#3366FF","#CCFFCC","#FF9900"]}},
  "order": {"field": "h", "type": "quantitative"}
}
}
